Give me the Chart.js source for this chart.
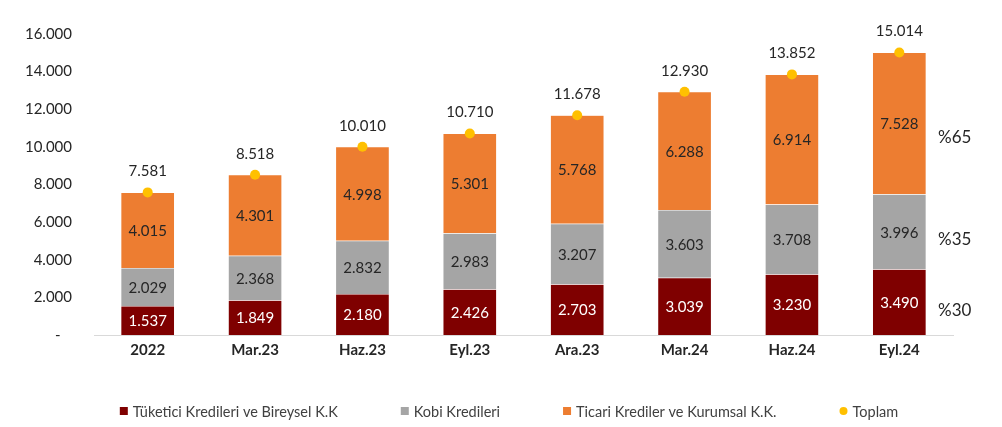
<!DOCTYPE html>
<html>
<head>
<meta charset="utf-8">
<script src="https://cdn.jsdelivr.net/npm/chart.js@4/dist/chart.umd.min.js"></script>
<style>
  html, body { margin: 0; padding: 0; background: #fff; }
  #wrap { width: 1002px; height: 427px; position: relative; }
</style>
</head>
<body>
<div id="wrap"><canvas id="krediChart"></canvas></div>
<script>
// veriler
const donemler = ["2022", "Mar.23", "Haz.23", "Eyl.23", "Ara.23", "Mar.24", "Haz.24", "Eyl.24"];
const tuketici = [1537, 1849, 2180, 2426, 2703, 3039, 3230, 3490];
const kobi = [2029, 2368, 2832, 2983, 3207, 3603, 3708, 3996];
const ticari = [4015, 4301, 4998, 5301, 5768, 6288, 6914, 7528];
const toplam = [7581, 8518, 10010, 10710, 11678, 12930, 13852, 15014];
const paylar = ["%65", "%35", "%30"];
const payYerleri = [10500, 5050, 1280];

const FONT = "Lato, 'Liberation Sans', sans-serif";
const fmt = (v) => String(v).replace(/\B(?=(\d{3})+(?!\d))/g, ".");

const etiketler = {
  id: "etiketler",
  afterDatasetsDraw(chart) {
    const ctx = chart.ctx;
    ctx.save();
    ctx.textAlign = "center";
    ctx.textBaseline = "middle";
    chart.data.datasets.forEach((ds, i) => {
      const meta = chart.getDatasetMeta(i);
      meta.data.forEach((el, j) => {
        const v = ds.data[j];
        ctx.font = "15px " + FONT;
        if (ds.type === "line") {
          ctx.fillStyle = "#262626";
          ctx.fillText(fmt(v), el.x, el.y - 21);
        } else {
          ctx.fillStyle = i === 0 ? "#ffffff" : "#262626";
          ctx.fillText(fmt(v), el.x, (el.y + el.base) / 2 + 1);
        }
      });
    });
    // sağdaki pay etiketleri
    const y = chart.scales.y;
    ctx.textAlign = "left";
    ctx.font = "17px " + FONT;
    ctx.fillStyle = "#262626";
    paylar.forEach((p, k) => ctx.fillText(p, chart.chartArea.right - 15, y.getPixelForValue(payYerleri[k])));
    ctx.restore();
  },
};

const lejant = {
  id: "lejant",
  afterDraw(chart) {
    const ctx = chart.ctx;
    const items = chart.data.datasets.map((ds) => ({ text: ds.label, color: ds.type === "line" ? ds.pointBackgroundColor : ds.backgroundColor, dot: ds.type === "line" }));
    const gap = 63, box = 8;
    ctx.save();
    ctx.font = "14.5px " + FONT;
    ctx.textBaseline = "middle";
    const widths = items.map((it) => box + 5 + ctx.measureText(it.text).width);
    const total = widths.reduce((a, b) => a + b, 0) + gap * (items.length - 1);
    let x = (chart.width - total) / 2 + 8;
    const yy = 411;
    items.forEach((it, k) => {
      ctx.fillStyle = it.color;
      if (it.dot) {
        ctx.beginPath();
        ctx.arc(x + box / 2, yy, box / 2, 0, Math.PI * 2);
        ctx.fill();
      } else {
        ctx.fillRect(x, yy - box / 2, box, box);
      }
      ctx.fillStyle = "#404040";
      ctx.fillText(it.text, x + box + 5, yy + 1);
      x += widths[k] + gap;
    });
    ctx.restore();
  },
};

new Chart(document.getElementById("krediChart").getContext("2d"), {
  data: {
    labels: donemler,
    datasets: [
      { type: "bar", label: "Tüketici Kredileri ve Bireysel K.K", data: tuketici, backgroundColor: "#7F0000", borderColor: "#ffffff", borderWidth: 0.5, order: 1 },
      { type: "bar", label: "Kobi Kredileri", data: kobi, backgroundColor: "#A5A5A5", borderColor: "#ffffff", borderWidth: 0.5, order: 1 },
      { type: "bar", label: "Ticari Krediler ve Kurumsal K.K.", data: ticari, backgroundColor: "#ED7D31", borderColor: "#ffffff", borderWidth: 0.5, order: 1 },
      { type: "line", label: "Toplam", data: toplam, stack: "toplam", showLine: false, pointRadius: 5, pointHoverRadius: 5, pointBackgroundColor: "#FFC000", pointBorderWidth: 0, order: 0 },
    ],
  },
  options: {
    responsive: true,
    maintainAspectRatio: false,
    animation: false,
    datasets: { bar: { barPercentage: 0.5, categoryPercentage: 1 } },
    layout: { padding: { top: 34, right: 49, left: 0, bottom: 0 } },
    plugins: { legend: { display: false }, tooltip: { enabled: false } },
    scales: {
      x: {
        stacked: true,
        grid: { display: false, drawTicks: false },
        border: { display: true, color: "#D9D9D9", width: 1 },
        ticks: { padding: 6, color: "#262626", font: { family: FONT, size: 15, weight: "bold" } },
        afterFit: (s) => { s.height = 92; },
      },
      y: {
        stacked: true,
        min: 0,
        max: 16000,
        grid: { display: false, drawTicks: false },
        border: { display: false },
        ticks: { stepSize: 2000, padding: 22, color: "#262626", font: { family: FONT, size: 15 }, callback: (v) => (v === 0 ? "-   " : fmt(v)) },
        afterFit: (s) => { s.width = 94; },
      },
    },
  },
  plugins: [etiketler, lejant],
});
</script>
</body>
</html>
